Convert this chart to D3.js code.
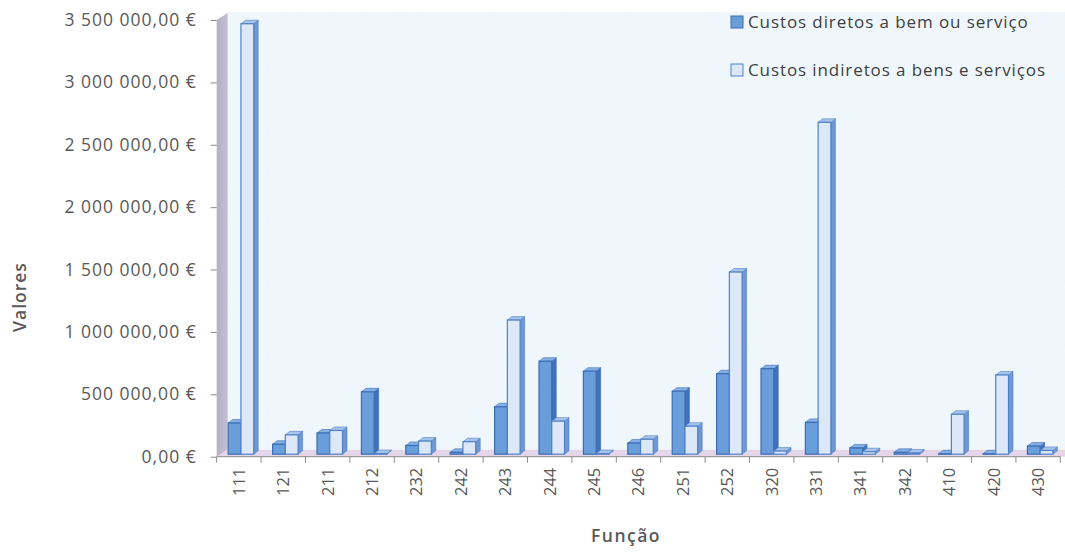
<!DOCTYPE html>
<html>
<head>
<meta charset="utf-8">
<script src="https://cdn.jsdelivr.net/npm/d3@7"></script>
<style>
  html, body { margin: 0; padding: 0; background: #ffffff; }
  svg { display: block; }
  text { font-family: "Open Sans", "DejaVu Sans", sans-serif; }
</style>
</head>
<body>
<svg id="chart" width="1065" height="552"></svg>
<script>
// Categories (função) and the two cost series, in euros
const categories = ["111","121","211","212","232","242","243","244","245","246","251","252","320","331","341","342","410","420","430"];
const custosDiretos = [250000, 80000, 170000, 500000, 70000, 15000, 380000, 745000, 665000, 90000, 505000, 645000, 685000, 255000, 50000, 15000, 3000, 3000, 65000];
const custosIndiretos = [3450000, 155000, 190000, 5000, 105000, 100000, 1075000, 265000, 5000, 120000, 225000, 1460000, 25000, 2660000, 20000, 10000, 320000, 635000, 30000];
const seriesNames = ["Custos diretos a bem ou serviço", "Custos indiretos a bens e serviços"];
const yTicks = [0, 500000, 1000000, 1500000, 2000000, 2500000, 3000000, 3500000];
const axisTitles = { x: "Função", y: "Valores" };

const svg = d3.select("#chart");

// plot geometry
const left = 216.7, right = 1060.3, baseY = 456.7, topY = 20;
const depthX = 11, depthY = -7;      // wall / floor depth
const barDX = 4.5, barDY = -3.5;     // bar side / top depth

const x = d3.scaleBand().domain(categories).range([left, right]);
const inner = d3.scaleBand().domain([0, 1]).range([11.5, 37]).padding(0);
const y = d3.scaleLinear().domain([0, 3500000]).range([baseY, topY]);

// background texture for the back wall
const defs = svg.append("defs");
const noise = defs.append("filter").attr("id", "grain").attr("x", 0).attr("y", 0).attr("width", 1).attr("height", 1);
noise.append("feTurbulence").attr("type", "fractalNoise").attr("baseFrequency", 0.9).attr("numOctaves", 2).attr("seed", 4).attr("result", "n");
noise.append("feColorMatrix").attr("in", "n").attr("type", "matrix")
  .attr("values", "0 0 0 0 0.86  0 0 0 0 0.93  0 0 0 0 0.98  0 0 0 -1.6 1.0").attr("result", "c");
noise.append("feComposite").attr("in", "c").attr("in2", "SourceGraphic").attr("operator", "in");

const wallGrad = defs.append("linearGradient").attr("id", "wallGrad").attr("x1", 0).attr("x2", 1);
wallGrad.append("stop").attr("offset", 0).attr("stop-color", "#b3aec4");
wallGrad.append("stop").attr("offset", 1).attr("stop-color", "#c4c0d4");

// back wall
svg.append("rect")
  .attr("x", left + depthX).attr("y", 12)
  .attr("width", 1065 - left - depthX).attr("height", baseY + depthY - 12)
  .attr("fill", "#f0f7fc");
svg.append("rect")
  .attr("x", left + depthX).attr("y", 12)
  .attr("width", 1065 - left - depthX).attr("height", baseY + depthY - 12)
  .attr("filter", "url(#grain)").attr("fill", "#fff").attr("opacity", 0.7);

// side wall
svg.append("polygon")
  .attr("points", [[left, y(3500000)], [left + depthX, y(3500000) + depthY], [left + depthX, baseY + depthY], [left, baseY]].join(" "))
  .attr("fill", "url(#wallGrad)");

// floor
svg.append("polygon")
  .attr("points", [[left, baseY], [left + depthX, baseY + depthY], [1065, baseY + depthY], [1065, baseY]].join(" "))
  .attr("fill", "#e4d5e9");

// axes
const euro = d3.formatLocale({ decimal: ",", thousands: "\u00a0", grouping: [3], currency: ["", " €"] }).format(",.2f");
const yAxis = d3.axisLeft(y)
  .tickValues(yTicks)
  .tickSize(6)
  .tickPadding(14)
  .tickFormat(d => euro(d) + "\u00a0€");
const gy = svg.append("g").attr("transform", `translate(${left},0)`).call(yAxis);
gy.select(".domain").remove();
gy.selectAll(".tick line").attr("stroke", "#8c8c8c");
gy.selectAll(".tick text").attr("fill", "#595959")
  .style("font-size", "17.5px").style("letter-spacing", "1px");

const xAxis = d3.axisBottom(x).tickSize(0).tickPadding(0);
const gx = svg.append("g").attr("transform", `translate(0,${baseY})`).call(xAxis);
gx.select(".domain").attr("stroke", "#8c8c8c").attr("d", `M${left},0H${right}`);
gx.selectAll(".tick text")
  .attr("transform", "rotate(-90)")
  .attr("x", -11).attr("y", 0).attr("dy", "0.36em")
  .attr("text-anchor", "end")
  .attr("fill", "#595959")
  .style("font-size", "16.5px");
// tick marks between categories
gx.selectAll(".sep")
  .data(categories.concat([null]))
  .join("line")
  .attr("class", "sep")
  .attr("x1", (d, i) => i < categories.length ? x(d) : right)
  .attr("x2", (d, i) => i < categories.length ? x(d) : right)
  .attr("y1", 0).attr("y2", 6)
  .attr("stroke", "#8c8c8c");

// 3D columns
const styles = [
  { front: "#6a9edb", side: "#3f72bb", top: "#86b1e6", stroke: "#3c6cb3" },
  { front: "#dce8f8", side: "#6f98d2", top: "#a8c4ec", stroke: "#4f80c6" }
];
const rows = categories.map((c, i) => ({ c, vals: [custosDiretos[i], custosIndiretos[i]] }));
const barBase = baseY - 2.5;
const bars = svg.append("g");
rows.forEach(r => {
  r.vals.forEach((v, s) => {
    const st = styles[s];
    const x0 = x(r.c) + inner(s);
    const w = inner.bandwidth();
    const yt = y(v) - (baseY - barBase);
    const g = bars.append("g");
    g.append("polygon")
      .attr("points", [[x0 + w, yt], [x0 + w + barDX, yt + barDY], [x0 + w + barDX, barBase + barDY], [x0 + w, barBase]].join(" "))
      .attr("fill", st.side).attr("stroke", st.stroke).attr("stroke-width", 0.6);
    g.append("polygon")
      .attr("points", [[x0, yt], [x0 + barDX, yt + barDY], [x0 + w + barDX, yt + barDY], [x0 + w, yt]].join(" "))
      .attr("fill", st.top).attr("stroke", st.stroke).attr("stroke-width", 0.6);
    g.append("rect")
      .attr("x", x0).attr("y", yt)
      .attr("width", w).attr("height", Math.max(0, barBase - yt))
      .attr("fill", st.front).attr("stroke", st.stroke).attr("stroke-width", 1.2);
  });
});

// axis titles
svg.append("text")
  .attr("transform", "translate(26,297) rotate(-90)")
  .attr("text-anchor", "middle")
  .attr("fill", "#595959").style("font-size", "17.5px").style("font-weight", "600")
  .style("letter-spacing", "1px")
  .text(axisTitles.y);
svg.append("text")
  .attr("x", 626).attr("y", 542)
  .attr("text-anchor", "middle")
  .attr("fill", "#595959").style("font-size", "17.5px").style("font-weight", "600")
  .style("letter-spacing", "1.5px")
  .text(axisTitles.x);

// legend
const legend = svg.append("g").attr("transform", "translate(731,14)");
seriesNames.forEach((name, i) => {
  const row = legend.append("g").attr("transform", `translate(0,${i * 48})`);
  row.append("rect").attr("x", 0).attr("y", 2).attr("width", 12).attr("height", 12)
    .attr("fill", styles[i].front).attr("stroke", styles[i].stroke).attr("stroke-width", 1);
  row.append("text").attr("x", 17).attr("y", 14)
    .attr("fill", "#404040").style("font-size", "17px").style("letter-spacing", "0.9px")
    .text(name);
});
</script>
</body>
</html>
